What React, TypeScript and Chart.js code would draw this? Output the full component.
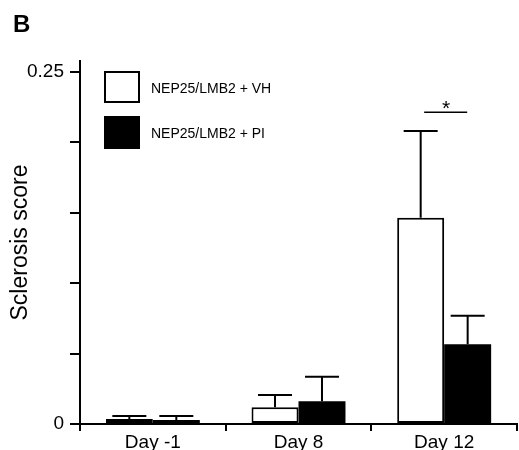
import React, { useEffect, useRef } from 'react';
import { Chart, registerables } from 'chart.js';

Chart.register(...registerables);

const categories = ['Day -1', 'Day 8', 'Day 12'];
const vhLabel = 'NEP25/LMB2 + VH';
const piLabel = 'NEP25/LMB2 + PI';
const vhValues = [0.0036, 0.0119, 0.1465];
const piValues = [0.0028, 0.0161, 0.0566];
const vhErrors = [0.0021, 0.0087, 0.0615];
const piErrors = [0.0029, 0.0175, 0.0203];
const yTickValues = [0, 0.05, 0.1, 0.15, 0.2, 0.25];
const yLabelledTicks = [0, 0.25];
const yAxisTitle = 'Sclerosis score';
const panelLetter = 'B';
const sigCategory = 2;
const sigValue = 0.2214;
const sigMark = '*';

const FONT = "'Liberation Sans', Arial, Helvetica, sans-serif";

const errorBarsPlugin = {
  id: 'errorBars',
  afterDatasetsDraw(chart: any) {
    const ctx = chart.ctx;
    const y = chart.scales.y;
    chart.data.datasets.forEach((ds: any, di: number) => {
      const meta = chart.getDatasetMeta(di);
      meta.data.forEach((bar: any, i: number) => {
        const v = ds.data[i];
        const e = ds.errors[i];
        const base = y.getPixelForValue(v);
        const top = y.getPixelForValue(v + e);
        ctx.save();
        ctx.strokeStyle = '#000';
        ctx.lineWidth = 2;
        ctx.beginPath();
        ctx.moveTo(bar.x, base);
        ctx.lineTo(bar.x, top);
        ctx.moveTo(bar.x - 17, top);
        ctx.lineTo(bar.x + 17, top);
        ctx.stroke();
        ctx.restore();
      });
    });
  },
};

const annotationsPlugin = {
  id: 'annotations',
  afterDraw(chart: any) {
    const ctx = chart.ctx;
    const x = chart.scales.x;
    const y = chart.scales.y;
    ctx.save();
    // significance bar
    const cx = x.getPixelForValue(sigCategory);
    const sy = y.getPixelForValue(sigValue);
    ctx.strokeStyle = '#000';
    ctx.lineWidth = 1.5;
    ctx.beginPath();
    ctx.moveTo(cx - 20, sy);
    ctx.lineTo(cx + 23, sy);
    ctx.stroke();
    ctx.fillStyle = '#000';
    ctx.font = `21px ${FONT}`;
    ctx.textAlign = 'center';
    ctx.textBaseline = 'alphabetic';
    ctx.fillText(sigMark, cx + 2, sy + 3);

    // legend
    const items = chart.data.datasets.map((ds: any) => ({ label: ds.label, fill: ds.backgroundColor }));
    const boxes = [
      { top: 71, h: 32 },
      { top: 116, h: 33 },
    ];
    items.forEach((it: any, i: number) => {
      const b = boxes[i];
      ctx.fillStyle = it.fill;
      ctx.fillRect(104, b.top, 36, b.h);
      ctx.strokeStyle = '#000';
      ctx.lineWidth = 2;
      ctx.strokeRect(105, b.top + 1, 34, b.h - 2);
      ctx.fillStyle = '#000';
      ctx.font = `14px ${FONT}`;
      ctx.textAlign = 'left';
      ctx.textBaseline = 'middle';
      ctx.fillText(it.label, 151, b.top + b.h / 2 + 2);
    });

    // panel letter
    ctx.font = `bold 24px ${FONT}`;
    ctx.textAlign = 'left';
    ctx.textBaseline = 'alphabetic';
    ctx.fillText(panelLetter, 13, 32);
    ctx.restore();
  },
};

export default function App() {
  const ref = useRef<HTMLCanvasElement>(null);

  useEffect(() => {
    if (!ref.current) return;
    const chart = new Chart(ref.current, {
      type: 'bar',
      data: {
        labels: categories,
        datasets: [
          {
            label: vhLabel,
            data: vhValues,
            errors: vhErrors,
            backgroundColor: '#ffffff',
            borderColor: '#000000',
            borderWidth: 2,
            borderSkipped: false,
          } as any,
          {
            label: piLabel,
            data: piValues,
            errors: piErrors,
            backgroundColor: '#000000',
            borderColor: '#000000',
            borderWidth: 0,
          } as any,
        ],
      },
      options: {
        responsive: false,
        animation: false,
        devicePixelRatio: 1,
        layout: { padding: { top: 61, right: 2, bottom: 0, left: 0 } },
        datasets: { bar: { categoryPercentage: 0.645, barPercentage: 1 } },
        plugins: {
          legend: { display: false },
          tooltip: { enabled: false },
        },
        scales: {
          x: {
            type: 'category',
            offset: true,
            afterFit: (s: any) => {
              s.height = 26;
            },
            border: { display: true, color: '#000', width: 2 },
            grid: {
              offset: true,
              drawOnChartArea: false,
              drawTicks: true,
              tickLength: 7,
              lineWidth: 2,
              color: '#000',
            },
            ticks: {
              color: '#000',
              font: { family: FONT, size: 19 },
              padding: 0,
              maxRotation: 0,
            },
          },
          y: {
            type: 'linear',
            min: 0,
            max: 0.2578,
            afterFit: (s: any) => {
              s.width = 80;
            },
            afterBuildTicks: (s: any) => {
              s.ticks = yTickValues.map((v) => ({ value: v }));
            },
            border: { display: true, color: '#000', width: 2 },
            grid: {
              drawOnChartArea: false,
              drawTicks: true,
              tickLength: 10,
              lineWidth: 2,
              color: '#000',
            },
            ticks: {
              color: '#000',
              font: { family: FONT, size: 19 },
              padding: 6,
              callback: (v: any) => (yLabelledTicks.includes(Number(v)) ? String(v) : ''),
            },
            title: {
              display: true,
              text: yAxisTitle,
              color: '#000',
              font: { family: FONT, size: 23 },
              padding: { top: 7, bottom: 0 },
            },
          },
        },
      } as any,
      plugins: [errorBarsPlugin, annotationsPlugin],
    });
    return () => chart.destroy();
  }, []);

  return (
    <div style={{ position: 'absolute', left: 0, top: 0, width: 519, height: 450, background: '#fff' }}>
      <canvas ref={ref} width={519} height={450} style={{ display: 'block', width: 519, height: 450 }} />
    </div>
  );
}
